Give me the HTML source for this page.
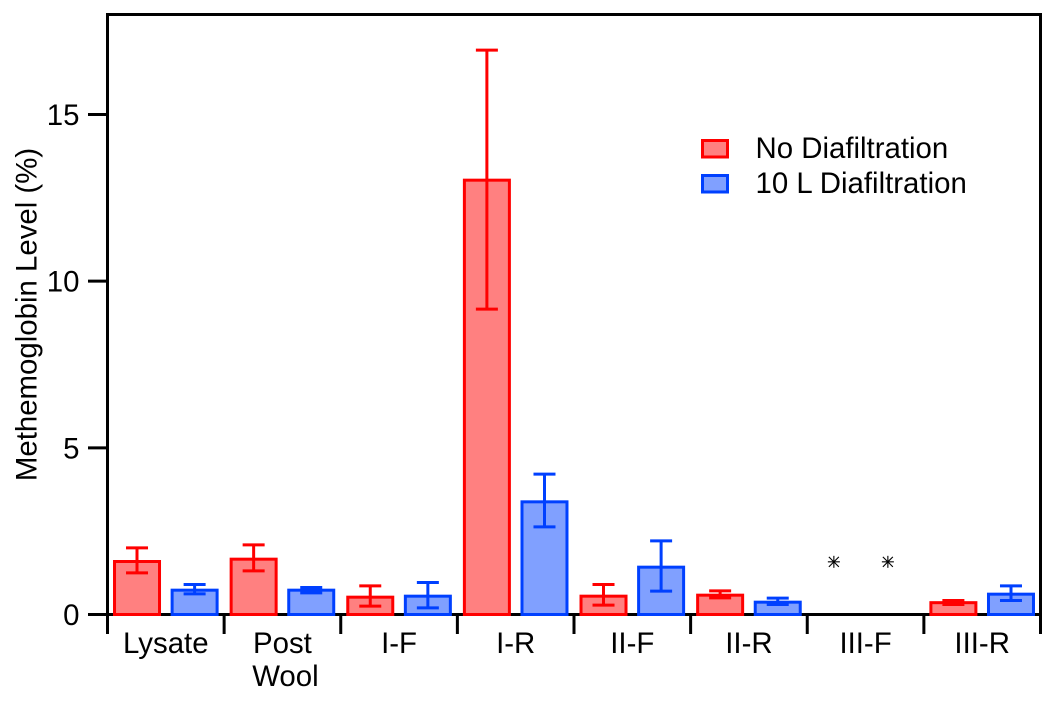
<!DOCTYPE html>
<html>
<head>
<meta charset="utf-8">
<title>Methemoglobin Level</title>
<style>
html,body{margin:0;padding:0;background:#fff;}
svg{display:block;}
text{font-family:"Liberation Sans",sans-serif;fill:#000;}
</style>
</head>
<body>
<svg id="chart" xmlns="http://www.w3.org/2000/svg" width="1050" height="701" viewBox="0 0 1050 701"></svg>
<script>
const categories = [["Lysate"], ["Post", "Wool"], ["I-F"], ["I-R"], ["II-F"], ["II-R"], ["III-F"], ["III-R"]];
const noDiaValues = [1.59, 1.66, 0.52, 13.03, 0.55, 0.58, null, 0.355];
const noDiaUpper = [2.0, 2.09, 0.86, 16.93, 0.9, 0.71, null, 0.42];
const noDiaLower = [1.25, 1.31, 0.25, 9.16, 0.28, 0.5, null, 0.3];
const tenLValues = [0.73, 0.73, 0.55, 3.38, 1.42, 0.37, null, 0.61];
const tenLUpper = [0.9, 0.81, 0.96, 4.21, 2.21, 0.49, null, 0.86];
const tenLLower = [0.62, 0.65, 0.2, 2.63, 0.7, 0.3, null, 0.42];
const noDataMarkers = [null, null, null, null, null, null, 1.58, null];
const yTicks = [0, 5, 10, 15];
const legendLabels = ["No Diafiltration", "10 L Diafiltration"];

const svg = document.getElementById('chart');
const NS = 'http://www.w3.org/2000/svg';
const left = 107.5, right = 1040.5, top_ = 14.5, base = 614.5, tickBottom = 634;
const yMax = (base - top_) / (100 / 3);
const barW = 45, barOff = 28.8, capW = 22, sw = 3;
const fontSize = 29.4;
const RED = '#ff0000', RED_FILL = '#ff8080', BLUE = '#0040ff', BLUE_FILL = '#80a0ff';

function xBand(i) { return left + (right - left) * i / categories.length; }
function xCenter(i) { return xBand(i + 0.5); }
function yScale(v) { return base - (base - top_) * v / yMax; }

function make(tag, attrs, parent) {
  const el = document.createElementNS(NS, tag);
  for (const k in attrs) el.setAttribute(k, attrs[k]);
  (parent || svg).appendChild(el);
  return el;
}
function line(x1, y1, x2, y2, color, width, name) {
  const el = make('line', {x1: x1, y1: y1, x2: x2, y2: y2, stroke: color, 'stroke-width': width});
  
  
  return el;
}
function label(str, x, y, size, anchor, name) {
  const el = make('text', {x: x, y: y, 'font-size': size, 'text-anchor': anchor});
  el.textContent = str;
  
  
  return el;
}

// frame and axes
line(left, top_ - 1.5, left, tickBottom, '#000', sw, 'y-axis-line');
line(right, top_ - 1.5, right, tickBottom, '#000', sw, 'right-axis-line');
line(left, top_, right, top_, '#000', sw, 'top-axis-line');
line(left, base, right, base, '#000', sw, 'x-axis-line');

yTicks.forEach(function (t) {
  line(88, yScale(t), left, yScale(t), '#000', sw, 'y-tick-' + t);
  label(String(t), 79.5, yScale(t) + 10.5, fontSize, 'end', 'y-tick-label-' + t);
});

for (let i = 0; i <= categories.length; i++) {
  line(xBand(i), base, xBand(i), tickBottom, '#000', sw, 'x-tick-' + i);
}
categories.forEach(function (lines, i) {
  lines.forEach(function (s, j) {
    label(s, xCenter(i) + j * 3, 653 + j * 33, fontSize, 'middle', 'x-label-' + s.toLowerCase());
  });
});

const yTitle = label('Methemoglobin Level (%)', 0, 0, fontSize, 'middle', 'y-axis-title');
yTitle.setAttribute('transform', 'translate(36.5 314.5) rotate(-90)');

function drawSeries(values, upper, lower, offset, stroke, fill, key) {
  values.forEach(function (v, i) {
    if (v === null) return;
    const cx = xCenter(i) + offset;
    const bar = make('rect', {
      x: cx - barW / 2, y: yScale(v), width: barW, height: base - yScale(v),
      fill: fill, stroke: stroke, 'stroke-width': sw
    });
    
    
    line(cx, yScale(upper[i]), cx, yScale(lower[i]), stroke, sw, 'error-stem-' + key + '-' + i);
    line(cx - capW / 2, yScale(upper[i]), cx + capW / 2, yScale(upper[i]), stroke, sw, 'error-cap-upper-' + key + '-' + i);
    line(cx - capW / 2, yScale(lower[i]), cx + capW / 2, yScale(lower[i]), stroke, sw, 'error-cap-lower-' + key + '-' + i);
  });
}
drawSeries(noDiaValues, noDiaUpper, noDiaLower, -barOff, RED, RED_FILL, 'no-diafiltration');
drawSeries(tenLValues, tenLUpper, tenLLower, barOff, BLUE, BLUE_FILL, '10l-diafiltration');

// no-data markers (asterisks)
noDataMarkers.forEach(function (v, i) {
  if (v === null) return;
  [-31.7, 22.3].forEach(function (off, k) {
    const g = make('g', {transform: 'translate(' + (xCenter(i) + off) + ' ' + yScale(v) + ')', stroke: '#000', 'stroke-width': 1.1});
    
    
    make('line', {x1: -6, y1: 0, x2: 6, y2: 0}, g);
    make('line', {x1: 0, y1: -6, x2: 0, y2: 6}, g);
    make('line', {x1: -5, y1: -5, x2: 5, y2: 5}, g);
    make('line', {x1: -5, y1: 5, x2: 5, y2: -5}, g);
  });
});

// legend
[[RED, RED_FILL], [BLUE, BLUE_FILL]].forEach(function (c, i) {
  const y = 140.5 + i * 35;
  const s = make('rect', {x: 702.5, y: y, width: 25, height: 16.5, fill: c[1], stroke: c[0], 'stroke-width': sw});
  
  
  label(legendLabels[i], 755.5, y + 17.6, fontSize, 'start', 'legend-label-' + i);
});
</script>
</body>
</html>
